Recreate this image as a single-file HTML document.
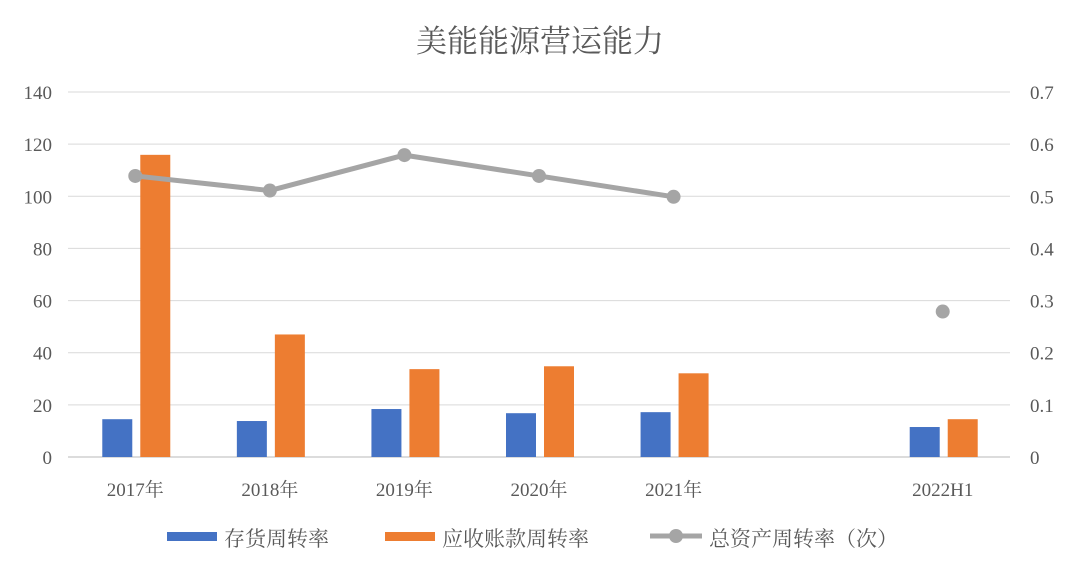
<!DOCTYPE html>
<html><head><meta charset="utf-8"><style>
html,body{margin:0;padding:0;background:#fff;}
svg{display:block;font-family:"Liberation Serif","Noto Serif CJK SC",serif;}
</style></head><body>
<svg id="chart" width="1080" height="568" viewBox="0 0 1080 568">
<text x="540" y="52" text-anchor="middle" font-size="31" fill="#595959">美能能源营运能力</text>
<g id="grid"></g><g id="bars"></g><g id="line"></g><g id="labels"></g>
<g>
<rect x="167" y="532" width="50" height="9" fill="#4472C4"/>
<text x="224" y="546" font-size="21" fill="#595959">存货周转率</text>
<rect x="385" y="532" width="50" height="9" fill="#ED7D31"/>
<text x="442" y="546" font-size="21" fill="#595959">应收账款周转率</text>
<line x1="650" y1="536" x2="702" y2="536" stroke="#A5A5A5" stroke-width="5"/>
<circle cx="676" cy="536" r="7" fill="#A5A5A5"/>
<text x="709" y="546" font-size="21" fill="#595959">总资产周转率（次）</text>
</g>
</svg>
<script>
const categories=["2017年","2018年","2019年","2020年","2021年","","2022H1"];
const inventory=[14.5,13.8,18.4,16.8,17.2,null,11.5];
const receivable=[115.9,47,33.7,34.8,32.1,null,14.5];
const assetTurnover=[0.539,0.511,0.579,0.539,0.499,null,0.279];
const leftTicks=[0,20,40,60,80,100,120,140];
const rightTicks=["0","0.1","0.2","0.3","0.4","0.5","0.6","0.7"];
const NS="http://www.w3.org/2000/svg";
const X0=68,X1=1010,Y0=457,Y1=92;
const slot=(X1-X0)/categories.length;
const yL=v=>Y0-(v/140)*(Y0-Y1);
const yR=v=>Y0-(v/0.7)*(Y0-Y1);
const xC=i=>X0+slot*(i+0.5);
function mk(tag,attrs,parent){const e=document.createElementNS(NS,tag);for(const k in attrs)e.setAttribute(k,attrs[k]);document.getElementById(parent).appendChild(e);return e;}
leftTicks.forEach((t,i)=>{
 const y=yL(t);
 const l=mk("line",{x1:X0,x2:X1,y1:y,y2:y,stroke:i===0?"#D0D0D0":"#D9D9D9","stroke-width":i===0?1.5:1},"grid");
 
 
 const a=mk("text",{x:52,y:y+7,"text-anchor":"end","font-size":19,fill:"#595959"},"labels");
 a.textContent=t;
 
 
 const b=mk("text",{x:1030,y:y+7,"font-size":19,fill:"#595959"},"labels");
 b.textContent=rightTicks[i];
 
 
});
categories.forEach((c,i)=>{
 const cx=xC(i);
 if(c){const t=mk("text",{x:cx,y:496,"text-anchor":"middle","font-size":19,fill:"#595959"},"labels");
 t.textContent=c;
 
 }
 if(inventory[i]!=null){const r=mk("rect",{x:cx-33,y:yL(inventory[i]),width:30,height:Y0-yL(inventory[i]),fill:"#4472C4"},"bars");
 
 }
 if(receivable[i]!=null){const r=mk("rect",{x:cx+5,y:yL(receivable[i]),width:30,height:Y0-yL(receivable[i]),fill:"#ED7D31"},"bars");
 
 }
});
let seg=[];
function flush(){if(seg.length>1){const p=mk("polyline",{points:seg.join(" "),fill:"none",stroke:"#A5A5A5","stroke-width":5,"stroke-linejoin":"round"},"line");
 
 }seg=[];}
assetTurnover.forEach((v,i)=>{if(v==null){flush();return;}seg.push(xC(i)+","+yR(v));});
flush();
assetTurnover.forEach((v,i)=>{if(v==null)return;const c=mk("circle",{cx:xC(i),cy:yR(v),r:7,fill:"#A5A5A5"},"line");
 
 });
</script>
</body></html>
